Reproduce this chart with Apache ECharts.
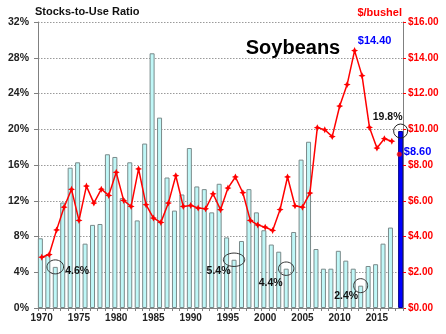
<!DOCTYPE html>
<html><head><meta charset="utf-8">
<script src="https://cdn.jsdelivr.net/npm/echarts@6/dist/echarts.min.js"></script>
<style>html,body{margin:0;padding:0;background:#fff}#c{width:446px;height:334px}</style>
</head><body><div id="c"></div>
<script>
const years = [];
for (let y = 1970; y <= 2018; y++) years.push(String(y));
const stocksToUse = [7.8,6.0,4.6,11.8,15.7,16.3,7.2,9.3,9.4,17.2,
  16.9,12.3,16.3,9.8,18.4,28.5,21.3,14.6,10.9,12.7,
  17.9,13.6,13.3,10.7,13.9,7.9,5.4,7.5,13.3,10.7,
  8.7,7.1,6.3,4.4,8.5,16.6,18.6,6.6,4.4,4.4,
  6.4,5.3,4.4,2.5,4.7,4.9,7.2,9.0,null];
const stocksForecast = [['2018', 19.8]];
const prices = [2.84,2.99,4.37,5.64,6.64,4.90,6.82,5.87,6.65,6.30,
  7.59,6.02,5.68,7.78,5.78,5.03,4.79,5.87,7.40,5.68,
  5.74,5.59,5.55,6.39,5.50,6.71,7.33,6.45,4.90,4.65,
  4.52,4.34,5.51,7.33,5.72,5.64,6.43,10.09,9.97,9.59,
  11.30,12.50,14.40,13.00,10.10,8.95,9.47,9.33,null];
const priceForecast = [['2018', 8.60]];
const leftTicks = [0,4,8,12,16,20,24,28,32];
const rightTicks = [0,2,4,6,8,10,12,14,16];
const lowNotes = [['1972','4.6%'],['1996','5.4%'],['2003','4.4%'],['2013','2.4%']];

const forecastBar = years.map(y => { const f = stocksForecast.find(d => d[0] === y); return f ? f[1] : null; });
const star = 'path://M5,0 L6.6,3.4 L10,5 L6.6,6.6 L5,10 L3.4,6.6 L0,5 L3.4,3.4 Z';
const FONT = 'Liberation Sans, Arial, sans-serif';

const chart = echarts.init(document.getElementById('c'), null, {renderer:'canvas'});
chart.setOption({
  animation:false,
  grid:{left:38, right:43, top:22, bottom:26, containLabel:false},
  xAxis:{type:'category', data:years, boundaryGap:true,
    axisLine:{lineStyle:{color:'#808080'}},
    axisTick:{show:true, interval:0, length:3, lineStyle:{color:'#808080'}},
    axisLabel:{interval:4, margin:5, fontFamily:FONT, fontWeight:'bold', fontSize:10, color:'#222'}},
  yAxis:[
    {type:'value', min:leftTicks[0], max:leftTicks[leftTicks.length-1], interval:4,
     axisLine:{show:true, lineStyle:{color:'#808080'}},
     axisTick:{show:true, length:4, lineStyle:{color:'#808080'}},
     splitLine:{show:true, lineStyle:{color:'#9a9a9a', type:[1.5,1.5], width:1}},
     axisLabel:{formatter:'{value}%', margin:9, fontFamily:FONT, fontWeight:'bold', fontSize:10.5, color:'#222'}},
    {type:'value', min:rightTicks[0], max:rightTicks[rightTicks.length-1], interval:2, position:'right',
     axisLine:{show:true, lineStyle:{color:'#808080'}},
     axisTick:{show:true, length:3, lineStyle:{color:'#ff0000'}},
     splitLine:{show:false},
     axisLabel:{formatter:v => '$' + v.toFixed(2), margin:5, fontFamily:FONT, fontWeight:'bold', fontSize:10, color:'#ff0000'}}
  ],
  series:[
    {type:'bar', data:stocksToUse, barWidth:5, barGap:'-46%', yAxisIndex:0,
     itemStyle:{color:'#bff7f7', borderColor:'#7a8a8a', borderWidth:1}},
    {type:'bar', data:forecastBar, barWidth:5, yAxisIndex:0,
     itemStyle:{color:'#0000ff', borderColor:'#00008a', borderWidth:1}},
    {type:'line', data:prices, yAxisIndex:1, symbol:star, symbolSize:7, showSymbol:true, showAllSymbol:true,
     lineStyle:{color:'#ff0000', width:1.5}, itemStyle:{color:'#ff0000'}, connectNulls:false, z:5},
    {type:'scatter', data:priceForecast, yAxisIndex:1, symbol:'circle', symbolSize:5,
     itemStyle:{color:'#ff0000'}, z:5}
  ]
});

function px(cat, val, yi){ return chart.convertToPixel({xAxisIndex:0, yAxisIndex:yi}, [cat, val]); }
const BAR_OFF = -1.35, FC_OFF = 1.35;
const noteLayout = [
  {rx:8.3, ry:7, dx:10, dy:4.5, align:'left'},
  {rx:10.7, ry:6.7, dx:-3.5, dy:11.5, align:'right'},
  {rx:7.7, ry:6.7, dx:-3.5, dy:14, align:'right'},
  {rx:7, ry:7, dx:-2.5, dy:10, align:'right'}
];
const g = [];
function txt(x, y, s, color, size, align){
  g.push({type:'text', x:x, y:y, z:100, style:{text:s, fill:color, font:'bold ' + size + 'px ' + FONT, textAlign:align||'left', textVerticalAlign:'middle'}});
}
lowNotes.forEach((n, i) => {
  const idx = years.indexOf(n[0]);
  const p = px(n[0], stocksToUse[idx], 0);
  const L = noteLayout[i];
  const cx = p[0] + BAR_OFF, cy = p[1];
  g.push({type:'ellipse', z:90, shape:{cx:cx, cy:cy, rx:L.rx, ry:L.ry}, style:{fill:'none', stroke:'#333', lineWidth:1}});
  txt(cx + L.dx, cy + L.dy, n[1], '#111', 10.5, L.align);
});
const fb = px(stocksForecast[0][0], stocksForecast[0][1], 0);
g.push({type:'circle', z:90, shape:{cx:fb[0] + FC_OFF, cy:fb[1], r:7}, style:{fill:'none', stroke:'#222', lineWidth:1}});
txt(fb[0] + FC_OFF - 13, fb[1] - 14, stocksForecast[0][1].toFixed(1) + '%', '#111', 10.5, 'center');
const pk = prices.indexOf(Math.max(...prices.filter(v => v != null)));
const pp = px(years[pk], prices[pk], 1);
txt(pp[0] + 20, pp[1] - 10, '$' + prices[pk].toFixed(2), '#0000ff', 11, 'center');
const pf = px(priceForecast[0][0], priceForecast[0][1], 1);
txt(pf[0] + 4.5, pf[1] - 2, '$' + priceForecast[0][1].toFixed(2), '#0000ff', 11, 'left');
txt(35, 12, 'Stocks-to-Use Ratio', '#111', 11, 'left');
txt(402, 13, '$/bushel', '#ff0000', 11, 'right');
txt(293, 48, 'Soybeans', '#000', 20, 'center');
chart.setOption({graphic: g});
</script></body></html>
